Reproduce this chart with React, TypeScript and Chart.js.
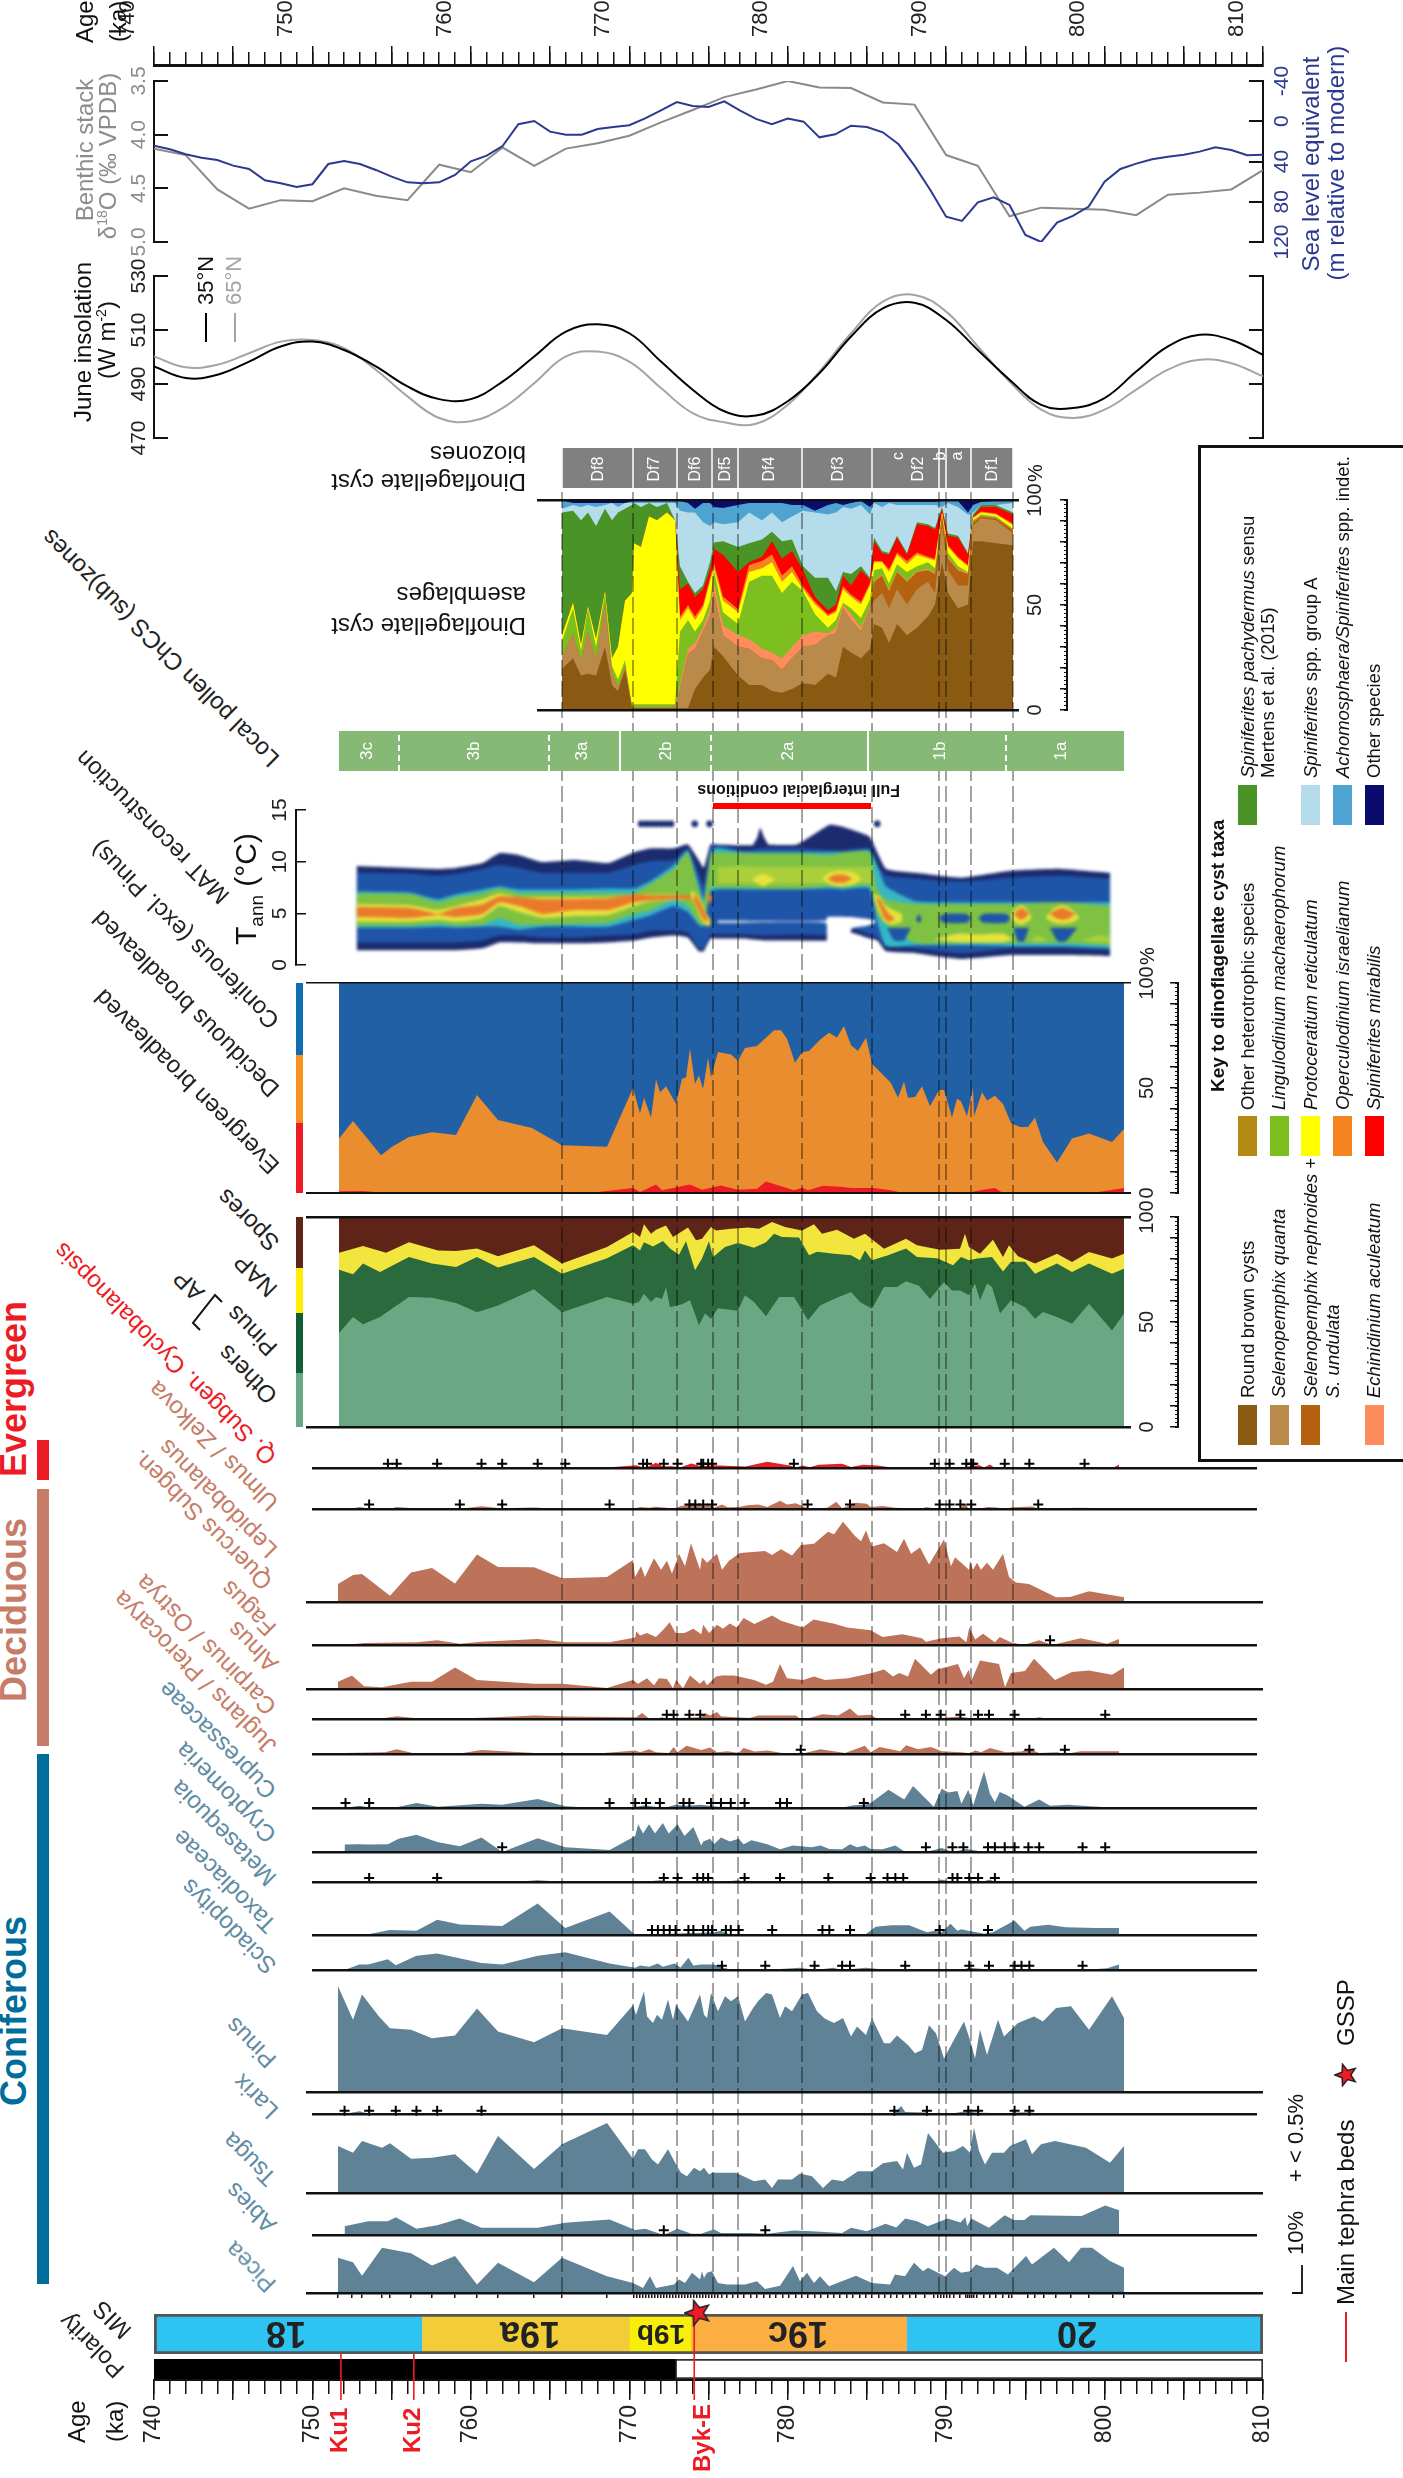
import React, { useEffect, useRef } from 'react';
import { Chart, registerables } from 'chart.js';
Chart.register(...registerables);
Chart.defaults.font.family = '"Liberation Sans", Arial, sans-serif';

/* ---------- age-scaled records ---------- */
const ages2 = [740,742,744,746,748,750,752,754,756,758,760,762,764,766,768,770,772,774,776,778,780,782,784,786,788,790,792,794,796,798,800,802,804,806,808,810];
const ages1 = [740,741,742,743,744,745,746,747,748,749,750,751,752,753,754,755,756,757,758,759,760,761,762,763,764,765,766,767,768,769,770,771,772,773,774,775,776,777,778,779,780,781,782,783,784,785,786,787,788,789,790,791,792,793,794,795,796,797,798,799,800,801,802,803,804,805,806,807,808,809,810];
const benthic = [4.13,4.19,4.51,4.69,4.61,4.62,4.50,4.57,4.61,4.28,4.35,4.12,4.29,4.13,4.08,4.01,3.885,3.77,3.65,3.58,3.50,3.56,3.565,3.70,3.72,4.19,4.29,4.76,4.68,4.69,4.70,4.75,4.56,4.54,4.51,4.33];
const seaLevel = [24.2,27.9,32.8,36.2,38.5,44.1,47.4,58.7,61.7,65.3,62.6,42.5,39.5,42.5,48.4,55,60.7,61.7,60.7,53.4,39.8,34.2,24.6,3,-0.3,10.3,13.3,13.3,7.7,5.7,4,-2.9,-10.9,-19.1,-15.2,-14.2,-19.8,-10.5,-2.3,3,-2.6,0.4,16,13,4.4,5.7,11,22.9,44.1,68.3,94.8,99.1,80.5,75.6,83.2,113,120,100.7,94.1,84.8,60,47.4,42.1,37.8,35.2,33.2,30.2,25.9,28.5,33.8,33.2];
const june35 = [496.5,492.2,493.4,498.3,503.9,505.7,502.6,496.5,489.1,484.4,484.4,490.9,500.2,509.4,512.1,508.8,498.3,487.9,479.9,478.3,483.6,494,507.6,518,520.1,513.7,502.6,491.6,482.3,481.1,484.8,494.6,503.9,508.2,506.3,500.8];
const june65 = [500.2,496.2,497.1,501.4,505.7,506.3,503.3,495.3,485.4,477.4,476.2,481.1,490.3,500.2,502,498.3,488.5,479.2,475.8,475.3,482.3,494.6,508.8,520.5,523,516.8,503.9,490.9,480.5,477.4,480.5,487.9,495.3,499,497.7,492.8];

/* ---------- dinoflagellate cysts: cumulative upper edge (%) at each depth ---------- */
const dinoDepth = [562,573,581,588,596,605,612,618,625,632,634,641,649,657,667,675,680,688,695,703,710,714,723,738,749,762,772,782,792,803,815,828,836,843,851,861,870,874,882,889,897,907,917,928,935,942,948,958,968,973,981,996,1013];
const dinoRoundBrown = [19.5,24.6,16.4,17.3,16.4,30.1,11.9,9.1,19.2,.9,.9,.9,.9,.9,.9,.9,.9,.9,10,15.5,19.2,30.1,25.6,16.4,11.9,11.9,9.1,8.2,10,12.8,11.9,17.3,15.5,30.1,27.4,24.6,29.2,41,39.2,31.9,41,35.6,39.2,44.7,50.2,70.3,55.7,48.4,50.2,80.3,80.3,79.4,78.5];
const dinoQuanta = [25.5,36.5,22.8,37.4,23.7,50.2,17.3,11,21,1.3,1.3,1.3,1.3,1.3,1.3,1.8,10,26.5,29.2,37.4,44.7,55.7,35.6,30.1,29.2,24.6,23.7,19.2,24.6,30.1,31,35.6,36.5,48.4,42.9,37.4,48.4,52,55.7,48.4,57.5,50.2,57.5,61.1,55.7,88.5,66.6,59.3,59.3,87.6,91.3,90.3,84];
const dinoNephroides = [25.5,36.5,22.8,37.4,23.7,50.2,17.3,11,21,1.3,1.3,1.3,1.3,1.3,1.3,1.8,10,26.5,29.2,37.4,44.7,55.7,35.6,30.1,29.2,24.6,23.7,19.2,24.6,30.1,31,35.6,36.5,48.4,42.9,37.4,48.4,61.1,63.9,56.6,65.7,61.1,65.7,66.6,64.8,92.2,72.1,66.6,64.8,89.4,92.2,91.3,85.8];
const dinoEchinidinium = [25.5,36.5,22.8,37.4,23.7,50.2,17.3,11,21,1.3,1.3,1.3,1.3,1.3,1.3,1.8,11.9,29.2,31.9,39.2,48.4,61.1,40.2,35.6,33.8,29.2,27.4,24.6,30.1,35.6,37.4,36.5,39.2,50.2,45.6,39.2,49.3,61.6,64.4,57.1,66.2,61.6,66.2,67.1,65.3,92.4,72.6,67.1,65.3,89.6,92.4,91.5,86];
const dinoLingulodinium = [32.9,48.4,28.3,48.4,30.1,55.7,21,14.6,23.7,1.8,2.7,2.7,2.7,2.7,2.7,2.7,37.4,42.9,37.4,42.9,52,66.6,46.5,41,61.1,63.9,63.9,55.7,61.1,56.6,45.6,39.2,42.9,51.1,48.4,43.8,52.9,66.6,67.5,60.2,69.4,65.7,68.4,70.3,67.5,93.1,74.8,68.4,65.7,90.3,93.1,92.2,86.3];
const dinoProtoceratium = [35.6,51.1,31,49.3,33.8,56.6,24.6,30.1,52,55.7,79.4,77.6,92.2,90.3,94,90.3,42.9,48.4,42.9,48.4,61.1,67.5,52,46.5,65.7,67.5,70.3,61.1,65.7,57.5,50.2,44.7,46.5,57.5,53.8,50.2,59.3,70.3,70.3,65.7,73.9,69.4,73.9,72.1,71.2,94,77.6,72.1,68.4,91.3,94,93.1,88.1];
const dinoOperculodinium = [35.6,51.1,31,49.3,33.8,56.6,24.6,30.1,52,55.7,79.4,77.6,92.2,90.3,94,90.3,44.5,50,44.5,50,63,70,54,48,69,71,74,64,68.5,59,51.5,45.5,47.5,59,55,51.5,60.5,71,71,67,75,71,75,73,72,94.2,78.5,73,69,91.8,94.5,93.6,88.7];
const dinoMirabilis = [35.6,51.1,31,49.3,33.8,56.6,24.6,30.1,52,55.7,79.4,77.6,92.2,90.3,94,90.3,57.5,60.2,53.8,57.5,66.6,76.7,73.9,65.7,70.3,73,80.3,72.1,75.7,66.6,53.8,47.5,50.2,63.9,59.3,66.6,62,80.3,74.8,73.9,82.1,73.9,88.5,87.6,85.8,95.8,83,82.1,73.9,92.2,96.7,96.7,93.1];
const dinoPachydermus = [94,94.9,90.3,94,87.6,95.8,90.3,94,95.8,97.6,98.6,96.7,98.6,96.7,98.6,90.3,68.4,61.1,55.7,59.3,70.3,79.8,80.3,77.6,79.4,81.2,84.9,80.3,81.2,68.4,63,63,56.6,65.7,64.8,68.4,63,82.1,75.7,74.8,83,74.8,89.4,88.5,86.7,96.7,84,83,74.8,93.1,97.6,97.6,94];
const dinoGroupA = [95.8,97.6,96.7,97.6,96.7,97.6,98.6,96.7,98.6,98.6,98.6,98.6,98.6,98.6,98.6,98.6,94.9,94,94,89.4,87.6,89.4,88.5,89.4,94,90.3,94,89.4,92.2,94.9,94,93.1,94,96.7,95.8,97.6,93.1,98.6,96.7,98.6,97.6,97.6,97.6,97.6,97.6,96.7,98.6,96.7,93,94,97.6,97.6,98.6];
const dinoAchomosphaera = [99.8,98.6,98.6,98.6,98.6,98.6,98.6,98.6,98.6,99.5,99.5,99.5,99.5,99.5,99.5,99.5,99.5,98.6,95.8,98.6,98.6,96.7,96.2,97.6,98.6,98.6,98.6,98.6,97.6,97.6,94.9,97.6,98.6,97.6,98.6,99.5,96.7,99.1,99.1,99.1,99.1,99.1,99.1,99.1,99.1,99.5,99.5,99.5,94,97.6,99.1,99.5,99.8];
const dinoOther = [100,100,100,100,100,100,100,100,100,100,100,100,100,100,100,100,100,100,100,100,100,100,100,100,100,100,100,100,100,100,100,100,100,100,100,100,100,100,100,100,100,100,100,100,100,100,100,100,100,100,100,100,100];

/* ---------- vegetation stacks: [depth, cumulative %] ---------- */
const vegEvergreen = [[339,.8],[363,1],[386,0],[461,.5],[562,.2],[598,.5],[633,2.4],[640,.5],[656,4],[662,1.3],[690,4],[702,1.6],[721,3.6],[738,1.6],[757,2],[766,5.5],[794,1.3],[802,2.5],[808,1.3],[823,3.5],[843,2.9],[851,2.4],[874,2.4],[891,1.3],[903,0],[966,0],[983,1.6],[995,2.4],[1003,0],[1092,0],[1124,2.4]];
const vegDeciduous = [[339,25.9],[353,34.3],[381,18],[392,22],[409,26.7],[432,28.9],[456,27.6],[477,46.7],[498,34.8],[532,31],[562,22.7],[607,22],[633,50],[640,37.8],[644,45.4],[651,35.9],[656,54],[660,48],[666,50.8],[676,42.5],[682,54.4],[686,55],[690,68.7],[695,52],[699,56],[703,49.7],[708,64.4],[711,55.2],[718,67.1],[731,66],[738,63],[745,69],[757,70],[774,77.5],[781,77.5],[787,73.5],[795,62],[802,67],[809,67.6],[820,73],[829,76.3],[837,74],[844,79.5],[851,70.3],[858,67.6],[866,74],[872,61.6],[891,52.4],[898,45.4],[904,53],[908,45.4],[915,45.7],[922,50.8],[930,41.3],[939,49],[944,49],[952,36],[957,44.9],[961,43.7],[967,36.6],[973,50],[974,36.6],[982,48],[987,44],[995,46.3],[1003,42.4],[1011,33.3],[1020,31.4],[1028,31.4],[1035,36],[1043,24.3],[1057,14.5],[1072,25.9],[1089,28.3],[1112,24.3],[1124,30.5]];
const vegConiferous = [[339,100],[1124,100]];
const sumOthers = [[339,44.8],[353,52.4],[363,48.9],[380,52.4],[409,61.9],[432,61.6],[456,59],[477,54.6],[498,57.8],[534,65.6],[562,54.6],[607,61.9],[633,58.7],[639,59.5],[644,63.5],[651,59.5],[656,61.9],[662,61],[666,66.5],[670,57],[682,58.4],[690,60.3],[699,48.4],[705,54],[711,51.6],[718,56.5],[738,55.4],[745,62.7],[754,59.5],[766,52.7],[779,61.9],[794,61.9],[808,50.8],[820,57.9],[834,61],[851,64.3],[860,59.5],[872,56.3],[884,66.7],[897,66.7],[906,69.4],[919,67.3],[930,60.9],[944,68.9],[952,65],[960,65],[969,62.7],[975,68.3],[980,60.3],[987,68.3],[992,66.7],[1000,54],[1011,60.3],[1025,57],[1035,51.6],[1043,54.8],[1057,52.4],[1072,49.2],[1089,58.7],[1112,46],[1124,54]];
const sumPinus = [[339,74.9],[353,72.7],[363,77.8],[380,73.8],[409,81],[432,77.8],[456,76.2],[477,81],[498,75.9],[534,81],[562,73],[607,80.3],[633,86.5],[640,84],[644,88],[653,86],[663,88.6],[670,85],[679,82],[686,88.4],[695,74.6],[702,80.2],[709,88.4],[713,81],[725,85.7],[738,87.6],[754,85.4],[766,88],[774,92],[782,90.5],[799,90.2],[809,81.8],[817,83.4],[834,82.5],[851,81.8],[860,79.4],[865,84],[872,79.4],[888,81.8],[906,85],[917,81],[937,80.3],[953,77],[961,81],[969,79.4],[977,80.2],[992,81],[1003,74],[1011,78.7],[1025,78.7],[1035,73],[1057,77.8],[1072,73.8],[1089,77.8],[1112,73],[1124,75.4]];
const sumNap = [[339,83],[363,86.2],[386,83],[409,88],[438,84.1],[456,83.8],[477,85],[498,81.3],[534,86.5],[562,77.8],[607,85.7],[633,92.9],[640,90.5],[644,96.5],[651,92],[656,93.9],[666,96],[673,90.5],[688,95],[696,88.9],[702,89.7],[711,95.2],[716,93.6],[731,94.4],[748,95],[759,94.4],[772,97.6],[785,95.2],[802,93.6],[814,96.5],[822,92],[837,93.9],[854,89.7],[865,92],[884,84.9],[906,89.7],[917,86.5],[940,84.4],[960,84.9],[965,92],[969,85.7],[980,82.5],[993,89.2],[1003,81],[1009,86.5],[1018,81.3],[1035,77.8],[1057,82.5],[1072,78.6],[1089,83.3],[1112,80.2],[1124,82.5]];
const sumSpores = [[339,100],[1124,100]];

/* ---------- pollen taxa: [depth, %] ---------- */
const cyclobalanopsis = [[338,.4],[366,.4],[370,0],[598,0],[634,1.5],[643,0],[654,2.8],[661,1],[670,1],[679,.4],[690,2.5],[700,1],[713,1.5],[745,.8],[767,3.4],[790,1.3],[796,.3],[803,1.3],[810,.4],[819,1.8],[843,2.3],[852,.6],[864,1.8],[879,1.3],[893,.3],[933,0],[964,.4],[982,1.5],[987,.3],[993,1.9],[998,0],[1005,.4],[1012,0],[1118,0],[1124,1.9]];
const ulmus = [[343,0],[353,1],[362,.3],[384,0],[391,1],[408,.4],[420,0],[455,.1],[477,1.4],[496,.4],[531,.8],[554,0],[598,0],[607,.3],[632,.3],[638,1],[647,.6],[654,1.1],[667,.5],[672,0],[679,1.5],[690,2.3],[700,1.9],[709,1.9],[713,.6],[721,2.3],[727,.9],[738,1],[747,1.9],[758,2.2],[767,1],[780,4.2],[787,2.2],[796,2.9],[808,.4],[812,.3],[828,.6],[837,3.6],[843,.4],[857,3.2],[868,2.6],[872,1],[884,1.5],[897,.6],[911,.4],[915,0],[924,0],[928,1],[937,.3],[949,0],[955,.6],[962,.3],[968,2.6],[971,.5],[978,.4],[982,.1],[991,1],[1000,.8],[1007,0],[1016,.9],[1036,1.3],[1043,0],[1081,.6],[1117,.4],[1124,0]];
const quercus = [[338,6.4],[353,9.6],[362,10],[390,2.2],[411,10.5],[432,12.1],[455,6.6],[477,17],[498,12.5],[534,12.4],[562,8.5],[607,8.9],[633,15],[635,8.9],[641,12.8],[645,8.9],[654,15.6],[661,11.5],[667,14.7],[672,10.2],[679,17.2],[685,12.8],[691,21],[700,11.5],[702,16],[707,14],[717,17.2],[722,11.5],[729,14.7],[740,17.5],[765,18.2],[772,16.8],[781,18.8],[792,16.6],[801,20.4],[814,20.8],[828,25.1],[834,24.2],[843,28.7],[855,23.6],[861,21.7],[866,25.5],[872,19.8],[884,21],[897,17.9],[904,22.6],[911,17.2],[920,19.5],[929,13.4],[944,22.3],[951,12.8],[955,16],[969,11.5],[970,14.7],[973,11.5],[977,14],[981,11.5],[987,14],[993,11.5],[1003,17.2],[1009,8.9],[1016,7],[1029,6.4],[1056,1.7],[1070,1.8],[1089,3.8],[1124,1.7]];
const fagus = [[338,0],[358,1],[411,1.3],[432,2.3],[455,.6],[477,1.5],[534,2.9],[562,1.3],[607,1.3],[633,3.6],[634,6.6],[638,4.5],[645,5.7],[654,3.8],[661,7],[668,10.8],[674,5.7],[683,5.7],[692,7.7],[700,5.1],[702,9.6],[708,5.7],[716,9.6],[722,7.7],[729,10.2],[736,8.3],[743,12.8],[754,10],[772,14],[781,11.5],[803,8.3],[814,12.1],[834,10.2],[848,8.3],[872,7],[884,3.8],[904,5.1],[924,3.2],[928,1.5],[944,3.2],[962,4.1],[969,1.3],[972,8.3],[978,2.6],[986,5.4],[998,1.3],[1003,3.8],[1014,1.3],[1027,0],[1043,2.3],[1056,0],[1085,3.2],[1112,.6],[1124,2.8]];
const alnus = [[338,2.6],[352,4.8],[364,1],[382,.6],[411,2.6],[432,2.6],[455,7.7],[477,3.2],[534,1.9],[562,1.9],[607,.4],[633,3.2],[638,1.9],[647,3.8],[654,1.3],[659,3.8],[667,3.6],[673,.3],[676,3.2],[683,.3],[690,4.8],[700,1.9],[704,3.2],[707,1.3],[716,4.5],[722,4.8],[734,4.8],[754,3.2],[766,1.5],[773,2.6],[780,8.9],[787,3.8],[803,3.2],[814,4.5],[825,3.2],[848,3.8],[872,5.7],[884,7],[893,4.5],[899,5.7],[908,4.5],[915,10.8],[931,5.1],[937,7],[958,8.9],[964,3.8],[969,7],[971,2.6],[980,10.2],[999,8.9],[1005,.6],[1011,5.7],[1025,6.4],[1034,10.8],[1055,3.2],[1072,6.1],[1089,6.6],[1112,5.1],[1124,7.7]];
const carpinus = [[338,.6],[362,.6],[371,0],[391,1.5],[411,.4],[455,.3],[491,1],[531,1.9],[562,1.3],[634,1],[640,3.2],[647,.3],[654,0],[660,1],[665,.3],[700,1],[704,3.2],[709,1.9],[716,3.8],[720,1.5],[734,1],[749,.6],[758,1.9],[767,1.9],[796,1.9],[801,0],[808,.3],[823,2.6],[839,1.9],[851,5.7],[859,1.9],[872,2.3],[879,0],[906,.4],[928,.3],[944,.5],[962,1.3],[971,.6],[978,0],[1034,0],[1043,1],[1052,0],[1070,.4],[1076,0],[1124,0]];
const juglans = [[338,.6],[379,1],[391,2.6],[408,.4],[455,.3],[477,2.2],[531,.6],[598,.4],[633,1.9],[638,1],[647,2.6],[654,1],[667,.6],[672,3.8],[676,1],[685,4.5],[700,2.2],[709,3.6],[716,1],[727,1.5],[738,.6],[743,3.2],[754,1.3],[767,1.9],[785,.3],[801,0],[821,2.6],[846,.6],[866,4.5],[872,1],[881,3.8],[902,1.5],[908,4.8],[920,2.6],[933,3.8],[944,1.5],[964,1],[973,.4],[978,1.9],[984,1],[993,3.2],[1009,1],[1025,1.3],[1032,2.8],[1043,.6],[1061,1],[1070,0],[1085,1.5],[1124,1.5]];
const cupressaceae = [[338,0],[353,1],[362,.3],[384,.4],[391,.3],[411,2.3],[433,.6],[477,1.9],[498,1.5],[534,4.1],[562,.8],[594,0],[633,.4],[643,1.3],[656,.3],[665,.3],[674,1.5],[685,1],[700,1.5],[716,.6],[745,0],[758,.4],[774,0],[799,0],[810,.3],[841,0],[855,1.3],[866,1.5],[872,2.3],[890,8.3],[906,3.8],[915,10],[936,.6],[944,8.7],[951,7],[960,7.7],[964,1.9],[971,8.3],[976,1.3],[987,16.6],[993,6.4],[998,2.6],[1003,7.3],[1011,5.7],[1028,.6],[1043,3.8],[1054,1],[1072,1.5],[1110,.3],[1113,0]];
const cryptomeria = [[338,3.6],[353,3.8],[362,3.6],[382,3.8],[393,6.4],[411,8.3],[432,4.8],[455,2.8],[477,7],[498,0],[534,6.6],[562,2.3],[607,1],[633,7.7],[636,13.4],[641,8.9],[647,13.4],[653,8.9],[661,14],[667,8.9],[676,13.4],[683,7.7],[692,12.1],[700,3.2],[702,5.1],[709,6.4],[713,3.8],[720,7],[729,5.1],[738,6.4],[743,3.8],[751,5.7],[767,3.8],[780,1.3],[793,3.2],[812,2.3],[821,3.2],[830,1.5],[843,1.3],[851,3.8],[858,2.3],[866,3.2],[872,1.5],[884,1.3],[897,3.2],[907,0],[920,.4],[928,0],[944,1.9],[955,0],[969,1.5],[980,.6],[987,0],[1124,0]];
const metasequoia = [[338,0],[509,0],[534,1],[562,0],[634,.3],[638,0],[659,1],[667,0],[727,.4],[738,1],[743,0],[937,0],[944,1.5],[955,0],[987,.4],[993,1.5],[998,0],[1124,0]];
const taxodiaceae = [[338,0],[362,.4],[384,2.3],[411,1.9],[432,7],[455,4.8],[498,4.1],[534,14.4],[562,3.2],[607,10.8],[633,0],[713,1.3],[720,1.9],[727,.6],[738,0],[866,0],[877,3.8],[893,4.5],[911,4.5],[929,1.3],[937,1.9],[944,1.3],[953,5.1],[960,1.9],[964,2.6],[971,1.9],[987,.6],[996,1.3],[1018,6.6],[1028,1.9],[1034,3.8],[1052,4.7],[1070,3.6],[1101,3.2],[1124,3.2]];
const sciadopitys = [[338,0],[353,3],[362,3],[382,5.8],[390,2.6],[411,7.8],[432,9],[477,3.8],[498,3],[534,7.8],[562,9.6],[607,3.6],[633,1.2],[638,2.4],[647,1.8],[656,3.6],[661,1.8],[673,3.6],[679,1.4],[687,6.6],[692,2.4],[700,3],[713,3],[720,1.8],[731,0],[749,.6],[765,0],[800,1.2],[816,0],[834,1.2],[843,0],[867,1.2],[890,0],[964,0],[972,1.2],[986,.6],[994,0],[1012,.6],[1039,0],[1070,.6],[1088,0],[1112,1],[1124,3]];
const pinus = [[338,37.8],[353,25.8],[362,34.8],[379,27],[390,22.8],[411,22.2],[432,19.2],[455,20.2],[477,29.8],[498,21.6],[534,17.8],[562,22.8],[607,20.4],[633,31],[636,27.6],[644,36],[647,27],[653,24.6],[657,27.6],[662,25.8],[668,33],[673,25.8],[676,31.2],[688,25.2],[700,34.8],[704,27.6],[707,26.4],[711,35.4],[718,28.8],[725,34.2],[731,32.4],[738,34.2],[745,25.2],[752,29.4],[758,32.4],[766,35.4],[772,34.8],[780,26.4],[785,30.6],[792,28.8],[802,34.8],[808,35.4],[817,28.8],[825,26.2],[834,24.6],[843,26.4],[851,19.8],[857,23.4],[866,20.4],[872,26.4],[884,17.4],[890,17.4],[897,20.2],[908,16.8],[915,13.8],[922,15],[929,23.8],[936,21],[944,12],[953,18],[964,25.2],[971,17.4],[975,12],[980,22.2],[987,13.2],[998,25.8],[1004,19.8],[1018,24.6],[1034,27],[1043,25.2],[1056,30],[1071,30.6],[1089,22.2],[1112,34.2],[1124,26.4]];
const larix = [[338,0],[353,1.8],[362,.4],[388,.4],[397,0],[477,.4],[500,.6],[518,0],[896,0],[898,2.2],[903,5.4],[907,1.4],[928,1],[937,0],[944,.6],[952,0],[968,1.8],[979,1],[994,.6],[1003,0],[1021,1],[1034,1.2],[1041,.4],[1124,.6]];
const tsuga = [[338,16.8],[353,14.4],[362,18.6],[382,16.2],[390,17.8],[411,12.2],[432,12.6],[455,13.8],[477,7],[498,20.4],[534,8.6],[562,17.4],[607,25],[633,12.2],[638,15.6],[645,15.6],[652,12],[658,10.2],[668,15.6],[676,10.2],[681,7.2],[687,6],[694,9],[700,7.8],[704,9],[709,6.6],[712,7.2],[720,7.2],[736,7.2],[754,4.2],[765,4.8],[772,1.8],[778,4.8],[792,4.8],[800,7],[812,6],[823,1.8],[832,4.8],[843,4.2],[858,7.8],[872,7.8],[883,10.6],[897,11.4],[903,8.4],[907,14.4],[914,9],[921,10.2],[928,21.4],[943,14.4],[954,15],[963,16.8],[970,14.4],[974,23.4],[979,15],[985,10.2],[992,14.4],[998,14.4],[1004,14.4],[1010,16.8],[1026,19.2],[1032,13.8],[1041,17.4],[1055,18.6],[1086,16.2],[1110,10.8],[1124,16.8]];
const abies = [[338,4.2],[362,6.6],[382,6.6],[390,8.4],[411,3],[432,4.6],[455,7.8],[477,3.4],[534,3.4],[562,5.8],[607,7.4],[633,2.4],[643,3],[662,0],[676,3],[690,.6],[700,.6],[707,1.8],[713,2.6],[720,1],[749,1],[767,.6],[794,2.2],[812,1.8],[843,1],[852,3.4],[868,1.8],[887,5.4],[898,3.6],[907,7.8],[919,6.6],[930,4.2],[950,7.8],[963,6],[968,8.4],[970,4.2],[974,7.8],[992,3.4],[1008,9.4],[1017,7.2],[1028,7.2],[1034,9.4],[1086,9],[1110,14],[1124,11.8]];
const picea = [[338,12.6],[353,11],[362,6.2],[382,16.2],[411,14.2],[432,9.8],[455,13.2],[477,3],[498,10.8],[534,3.8],[562,12.6],[607,6],[633,3.6],[643,1.8],[650,6],[656,1.8],[674,3],[679,4.8],[685,3.6],[692,7.2],[700,4.8],[702,7.8],[704,5.4],[707,7.2],[712,7.8],[718,3.6],[727,3],[745,3],[757,4.2],[765,1.4],[780,2.6],[793,9.6],[800,4.2],[807,7.2],[814,3.6],[820,6],[829,2.4],[856,6.2],[872,3.6],[890,3],[895,6.6],[905,6],[914,10.8],[923,7.8],[928,9],[945,6],[954,9],[961,7.2],[970,7.8],[976,10.2],[985,9],[997,9],[1008,6.6],[1026,13.2],[1032,10.2],[1054,16.2],[1069,11],[1081,16.2],[1092,16.2],[1110,11.4],[1124,9]];

/* depths of taxa present below 0.5 % */
const plusCyclobalanopsis = [382,391,432,477,498,534,562,641,645,662,676,700,702,707,711,794,937,952,969,974,976,1008,1033,1089];
const plusUlmus = [363,455,498,607,688,694,702,711,808,851,942,952,963,974,1042];
const plusFagus = [1054];
const plusCarpinus = [665,672,688,699,907,928,943,963,981,992,1018,1110];
const plusJuglans = [801,1033,1069];
const plusCupressaceae = [339,363,607,633,644,658,682,688,710,720,730,744,780,787,865];
const plusCryptomeria = [498,928,955,966,991,998,1008,1018,1032,1043,1087,1110];
const plusMetasequoia = [363,432,662,676,696,702,707,744,780,829,872,889,897,905,955,960,972,981,998];
const plusTaxodiaceae = [650,656,662,668,674,687,692,702,707,711,725,730,738,772,823,830,851,942,991];
const plusSciadopitys = [721,765,815,843,851,907,972,992,1018,1025,1033,1087];
const plusLarix = [338,363,390,411,432,477,896,929,971,981,1018,1033];
const plusAbies = [662,765];

const sampleDepths = [338,352,362,382,390,411,432,455,477,498,534,562,607,634,637,640,643,646,649,652,655,658,661,664,667,670,673,676,679,682,685,688,691,694,697,700,703,706,709,712,715,718,722,727,733,738,744,751,757,764,770,776,783,789,796,802,808,815,821,828,834,840,847,853,860,866,872,879,885,891,897,903,910,916,925,934,938,941,944,947,950,954,960,966,968,970,972,974,977,984,990,996,1003,1009,1012,1028,1035,1044,1056,1071,1089,1113,1124];

const boundaries = [562,633,677,713,738,802,872,939,946,971,1013];
const dfEdges = [562,633,677,712,738,802,872,939,946,971,1013];
const pollenZoneSolid = [620,868];
const pollenZoneDashed = [399,549,711,1006];

/* ---------- MAT reconstruction: density contours (degC) along depth ---------- */
const matDepth = [353,407,435,453,480,497,517,540,573,607,633,650,673,687,698,703,710,717,743,763,797,830,843,870,878,887,917,963,1013,1063,1113];
const matNavyTop = [9.7,9.5,9.4,9.5,10,11,10.8,10.1,10.3,10,11.1,11.5,11.5,11.9,10.3,9.5,11.9,11.9,11.8,11.9,11.9,13.9,13.7,12.7,11.1,9.4,9,8.5,9.2,9.4,9];
const matNavyBot = [1.1,1.1,1.1,1.1,1.3,1.9,1.9,1.8,1.8,1.9,2.1,2.4,2.6,2.4,1,1,2.3,2.3,2.3,2.1,2.1,2.1,3.1,2.3,2.1,1,.8,.2,.6,.6,.5];
const matBlueTop = [9,8.9,8.7,8.9,9.4,9.8,9.5,9,9,9,9.8,10.2,10.3,11.5,8.9,7.6,11.5,11.8,11.3,11.5,11.5,11.3,11.3,11.5,9.8,8.7,8.4,8.1,8.5,8.7,8.4];
const matBlueBot = [1.9,1.9,1.9,1.9,2.1,2.6,2.6,2.4,2.4,2.6,2.7,3.1,3.1,2.9,1.3,1.3,2.7,2.7,2.7,2.6,2.7,2.7,3.7,2.7,2.4,1.5,1.3,.8,1.3,1.3,1.1];
const matCyanTop = [7.1,7,6.3,6.8,7.3,7.6,7.3,7.3,7.3,7.4,7.4,8.2,9.8,11.3,7.9,6.3,11.1,11.5,11.1,11.1,11.1,11.1,11.1,11.3,9.8,7.6,6.1,6,6,6,6];
const matCyanBot = [3.4,3.4,3.5,3.4,3.5,3.5,3.2,3.5,3.5,3.5,4.2,4.7,5.6,5,3.7,3.5,7.1,7.3,7.3,7.3,7.3,7.4,7.3,7.4,4,1.5,1.6,1.6,1.5,1.5,1.3];
const matGreenTop = [6.9,6.8,6,6.5,6.9,7.4,6.9,6.9,6.9,6.9,6.9,7.9,9.4,11.1,7.3,5.8,10.8,11.1,11,11,11,10.8,11.1,11.1,7.3,6.3,5.8,5.8,5.8,6,5.6];
const matGreenBot = [3.6,3.6,3.8,3.6,3.7,4.4,3.7,3.7,3.8,3.9,4.8,5.2,6.3,5.6,3.9,3.7,7.5,7.5,7.5,7.4,7.4,7.6,7.5,7.7,4.8,3.7,1.8,1.8,1.8,1.8,1.6];
const matCoolDepth = [353,407,435,453,480,497,517,540,573,607,633,650,673,687,698];
const matYellowTop = [5.8,5.7,5.2,5.6,6.3,6.9,6.5,6.5,6.5,6.5,6.8,6.8,6.8,6.6,6.6];
const matYellowBot = [4,4,4.2,4,4.4,5.6,5,4.4,4.6,4.7,5.6,6.1,6.2,6.3,6.4];
const matOrangeTop = [5.5,5.4,4.8,5.4,5.8,6.6,6.5,6.3,6.3,6.4,6.8,6.7,6.7,6.7,6.7];
const matOrangeBot = [4.5,4.4,4.7,4.5,4.8,6,5.6,4.8,5.2,5.2,6,6.2,6.3,6.3,6.4];
const matDotDepth = [640,645,650,655,660,665,670,694,709,878];
const matDotTemp = [14,14,14,14,14,14,14,14,14,14];

/* ---------- zones and scale readings ---------- */
const misNames = ['18','19a','19b','19c','20'];
const misFrom = [740,756.9,770,773.9,787.5];
const misTo = [756.9,770,773.9,787.5,810];
const misColors = ['#2fc3f2','#f2cd37','#f7ee0a','#fbae42','#2fc3f2'];
const misLabelX = [286,530,661,798,1077];
const misLabelSize = [36,36,28,36,36];
const tephraKa = [751.8,756.4];
const bykKa = [774.1];
const gsspKa = [774.3];

const dinoColors = {
  roundBrown: '#8a5a12', quanta: '#b98a4a', nephroides: '#b4620f', other: '#b58a14', echinidinium: '#ff8c5c',
  lingulodinium: '#7dbf1e', protoceratium: '#ffff00', operculodinium: '#f5831f', mirabilis: '#ff0000',
  pachydermus: '#4a9327', groupA: '#b4dcea', achomosphaera: '#4fa3d1', others: '#0b0b6e',
};

const FONT = '"Liberation Sans", Arial, sans-serif';
const CONIFER = '#5f8ba3';
const CONIFER_FILL = '#5f8296';
const DECID = '#c67c66';
const DECID_FILL = '#bd725a';
const RED = '#ed1c24';
const NAVY = '#2b3990';
const GREY = '#8c8c8c';

const baseOpts = {
  responsive: false, maintainAspectRatio: false, animation: false, devicePixelRatio: 1, events: [],
  plugins: { legend: { display: false }, tooltip: { enabled: false } },
};
const xy = (p: number[][]) => p.map(([x, y]) => ({ x, y }));
const zip = (a: number[], b: number[]) => a.map((x, i) => ({ x, y: b[i] }));
const area = (data: any[], color: string) => ({ data, backgroundColor: color, borderWidth: 0, pointRadius: 0, fill: 'origin', tension: 0 });
const bline = (width: number) => ({ display: true, color: '#111', width, z: 2 });

function C({ left, top, width, height, config, blur = 0 }: any) {
  const ref = useRef<HTMLCanvasElement>(null);
  useEffect(() => {
    const c = new Chart(ref.current as any, typeof config === 'function' ? config() : config);
    return () => c.destroy();
  }, []);
  return <canvas ref={ref} width={width} height={height} style={{ position: 'absolute', left, top, width, height, display: 'block', filter: blur ? `blur(${blur}px)` : undefined }} />;
}

function T({ x, y, rot = -90, a = 0, size = 24, color = '#111', bold = false, italic = false, children }: any) {
  return (
    <div style={{ position: 'absolute', left: x, top: y, transformOrigin: '0 0', transform: `rotate(${rot}deg) translate(${-a * 100}%,-50%)`, whiteSpace: 'nowrap', fontFamily: FONT, fontSize: size, lineHeight: 1, color, fontWeight: bold ? 700 : 400, fontStyle: italic ? 'italic' : 'normal' }}>{children}</div>
  );
}
const Box = ({ x, y, w, h, color }: any) => <div style={{ position: 'absolute', left: x, top: y, width: w, height: h, background: color }} />;

/* area panel on a depth axis */
function areaCfg({ xMin, xMax, yMax, datasets, pad = 3, topPad = 2, axisW = 2.5, ticks = false, topBorder = false, topW = 2.5 }: any) {
  return {
    type: 'line',
    data: { datasets },
    options: {
      ...baseOpts,
      layout: { padding: { top: topPad, bottom: pad, left: 0, right: 0 } },
      scales: {
        x: {
          type: 'linear', min: xMin, max: xMax, position: 'bottom',
          afterFit: (s: any) => { s.height = 0; },
          afterBuildTicks: ticks ? (s: any) => { s.ticks = sampleDepths.map((value) => ({ value })); } : undefined,
          ticks: { display: false, autoSkip: false },
          grid: ticks ? { drawOnChartArea: false, drawTicks: true, tickLength: 5, color: '#111', lineWidth: 1.5 } : { display: false, drawTicks: false },
          border: bline(axisW),
        },
        ...(topBorder ? { xTop: { type: 'linear', min: xMin, max: xMax, position: 'top', afterFit: (s: any) => { s.height = 0; }, ticks: { display: false }, grid: { display: false, drawTicks: false }, border: bline(topW) } } : {}),
        y: { type: 'linear', min: 0, max: yMax, display: false },
      },
    },
  };
}

/* stand-alone vertical axis (negative tick length turns the ticks inwards) */
const AX_V = 35;
function yAxisCfg({ min, max, step, tick, margin, labels, pad = 6, size = 20, reverse = false, lw = 1.5 }: any) {
  return {
    type: 'line',
    data: { datasets: [] },
    options: {
      ...baseOpts,
      layout: { padding: { top: AX_V, bottom: AX_V, left: 0, right: 0 } },
      scales: {
        x: { type: 'linear', min: 0, max: 1, display: false },
        y: {
          type: 'linear', position: 'left', min, max, reverse,
          afterFit: (s: any) => { s.width = margin; },
          ticks: labels
            ? { stepSize: step, autoSkip: false, minRotation: 90, maxRotation: 90, crossAlign: 'center', padding: pad, color: '#222', font: { size }, callback: labels }
            : { stepSize: step, display: false, autoSkip: false },
          grid: { drawOnChartArea: false, drawTicks: true, tickLength: tick, color: '#111', lineWidth: lw },
          border: { display: true, color: '#111', width: 2 },
        },
      },
    },
  };
}

/* horizontal age ruler */
function xAxisCfg({ position, step, tick, h, labels, pad = 6, size = 22, border = 3 }: any) {
  return {
    type: 'line',
    data: { datasets: [] },
    options: {
      ...baseOpts,
      layout: { padding: { top: 0, bottom: 0, left: 60, right: 60 } },
      scales: {
        y: { type: 'linear', min: 0, max: 1, display: false },
        x: {
          type: 'linear', position, min: 740, max: 810,
          afterFit: (s: any) => { s.height = h; },
          ticks: labels
            ? { stepSize: step, autoSkip: false, minRotation: 90, maxRotation: 90, padding: pad, color: '#222', font: { size }, callback: labels }
            : { stepSize: step, display: false, autoSkip: false },
          grid: { drawOnChartArea: false, drawTicks: true, tickLength: tick, color: '#111', lineWidth: 1.5 },
          border: { display: true, color: '#111', width: border },
        },
      },
    },
  };
}

/* floating horizontal bars */
function barsCfg({ xMin, xMax, bars }: any) {
  return {
    type: 'bar',
    data: {
      labels: [''],
      datasets: bars.map((b: any) => ({
        data: [[b.from, b.to]], backgroundColor: b.color, borderColor: b.border || 'transparent', borderWidth: b.border ? (b.bw || 2) : 0,
        borderSkipped: false, grouped: false, barPercentage: 1, categoryPercentage: 1,
      })),
    },
    options: {
      ...baseOpts, indexAxis: 'y',
      layout: { padding: 1 },
      scales: { x: { type: 'linear', min: xMin, max: xMax, display: false }, y: { type: 'category', display: false } },
    },
  };
}

/* vertical rule lines */
function ruleCfg({ xMin, xMax, values, color, dash = [], width = 2 }: any) {
  return {
    type: 'line',
    data: { datasets: values.map((v: number) => ({ data: [{ x: v, y: 0 }, { x: v, y: 1 }], borderColor: color, borderDash: dash, borderWidth: width, pointRadius: 0 })) },
    options: { ...baseOpts, scales: { x: { type: 'linear', min: xMin, max: xMax, display: false }, y: { type: 'linear', min: 0, max: 1, display: false } } },
  };
}

function starCanvas(size: number) {
  const c = document.createElement('canvas');
  c.width = size; c.height = size;
  const g = c.getContext('2d') as CanvasRenderingContext2D;
  g.translate(size / 2, size / 2);
  g.beginPath();
  for (let i = 0; i < 10; i++) {
    const r = i % 2 ? size * 0.2 : size * 0.47;
    const t = Math.PI + (i * Math.PI) / 5;
    g[i ? 'lineTo' : 'moveTo'](r * Math.cos(t), r * Math.sin(t));
  }
  g.closePath();
  g.fillStyle = RED; g.fill();
  g.strokeStyle = '#222'; g.lineWidth = 1.5; g.stroke();
  return c;
}
const starCfg = (xMin: number, xMax: number, xs: number[], size: number) => () => ({
  type: 'line',
  data: { datasets: [{ data: xs.map((x) => ({ x, y: 0.5 })), showLine: false, pointStyle: starCanvas(size), pointRadius: size / 2, clip: false }] },
  options: { ...baseOpts, scales: { x: { type: 'linear', min: xMin, max: xMax, display: false }, y: { type: 'linear', min: 0, max: 1, display: false } } },
});

/* density bands for the MAT panel */
const NV = '#1c2b6e', BL = '#1f55a8', CY = '#35b7c4', GN = '#7fc143', LM = '#a9cf3a', YL = '#e6e23c', OR = '#ea7a2b';
const matBands = [
  { x: matDepth, top: matNavyTop, bot: matNavyBot, c: NV },
  { x: [753,757,760,764,768], top: [11.9,12.6,13.6,12.6,11.9], bot: [11.5,11.5,11.5,11.5,11.5], c: NV },
  { x: matDepth, top: matBlueTop, bot: matBlueBot, c: BL },
  { x: matDepth, top: matCyanTop, bot: matCyanBot, c: CY },
  { x: matDepth, top: matGreenTop, bot: matGreenBot, c: GN },
  { x: [717,740,763,797,830,855,872], top: [9.6,9.7,9.6,9.6,9.6,9.6,9.6], bot: [7.9,7.9,7.9,7.9,7.9,7.9,7.9], c: LM },
  { x: [752,757,763,769,775], top: [8.3,8.7,8.9,8.7,8.3], bot: [8.3,7.9,7.6,7.9,8.3], c: YL },
  { x: [822,830,842,855,862], top: [8.4,9,9.2,9,8.4], bot: [8.4,7.8,7.6,7.8,8.4], c: YL },
  { x: [828,835,845,853], top: [8.4,8.8,8.8,8.4], bot: [8.4,8,8,8.4], c: OR },
  { x: matCoolDepth, top: matYellowTop, bot: matYellowBot, c: YL },
  { x: matCoolDepth, top: matOrangeTop, bot: matOrangeBot, c: OR },
  { x: [690,695,700,705,710], top: [7.2,6.9,6.2,5,4.2], bot: [6.6,5.6,4.4,3.6,3.6], c: YL },
  { x: [693,698,703,707], top: [6.9,6.3,5.2,4.4], bot: [6.2,5.2,4.2,3.9], c: OR },
  { x: [706,709,712], top: [6.4,6.9,6.4], bot: [6.4,5.9,6.4], c: OR },
  { x: [917,920,923], top: [4.2,4.8,4.2], bot: [4.2,3.9,4.2], c: BL },
  { x: [940,945,968,973], top: [4.4,4.8,4.8,4.4], bot: [4.4,3.9,3.9,4.4], c: BL },
  { x: [980,985,1008,1013], top: [4.4,4.8,4.8,4.4], bot: [4.4,3.9,3.9,4.4], c: BL },
  { x: [1015,1020,1026,1031], top: [3.4,3.4,3.4,3.4], bot: [3.4,2,2,3.4], c: BL },
  { x: [1052,1060,1068,1080], top: [3.4,3.4,3.4,3.4], bot: [3.4,2,2,3.4], c: BL },
  { x: [888,895,905,912], top: [3.4,3.4,3.4,3.4], bot: [3.4,2.1,2.1,3.4], c: BL },
  { x: [935,960,980,1005,1015], top: [2.2,2.8,2.7,2.8,2.2], bot: [2.2,1.9,1.9,1.9,2.2], c: YL },
  { x: [1032,1040,1050], top: [2.1,2.6,2.1], bot: [2.1,1.9,2.1], c: LM },
  { x: [1085,1100,1113], top: [2.1,2.6,2.5], bot: [2.1,1.9,1.9], c: LM },
  { x: [1012,1018,1023,1028,1034], top: [4.4,5.4,5.7,5.4,4.4], bot: [4.4,3.9,3.7,3.9,4.4], c: YL },
  { x: [1016,1020,1023,1027,1031], top: [4.8,5.2,5.4,5.2,4.8], bot: [4.8,4.4,4.2,4.4,4.8], c: OR },
  { x: [1048,1056,1065,1074,1082], top: [4.4,5.4,5.7,5.3,4.4], bot: [4.4,3.9,3.8,3.9,4.4], c: YL },
  { x: [1052,1058,1065,1072,1078], top: [4.8,5.2,5.4,5.1,4.8], bot: [4.8,4.4,4.2,4.4,4.8], c: OR },
  { x: [874,880,885,892,903], top: [6.8,6.6,5.8,5.3,4.8], bot: [6.4,5,4,3.7,4], c: YL },
  { x: [877,881,885,890,895], top: [6.5,6.2,5.5,4.8,4.4], bot: [6.3,5.4,4.4,4,4.2], c: OR },
  { x: [717,826,828,850,852,868,876], top: [4.1,4.1,4.5,4.5,4.5,4.3,4.1], bot: [3.9,3.9,1.8,1.8,3.3,3.6,3.9], c: '#ffffff' },
];
function matDatasets() {
  const out: any[] = [{ data: zip(matDotDepth, matDotTemp), showLine: false, pointRadius: 3.4, pointBackgroundColor: NV, pointBorderWidth: 0 }];
  [...matBands].reverse().forEach((b) => {
    const i = out.length;
    out.push({ data: zip(b.x, b.top), fill: i + 1, backgroundColor: b.c, borderWidth: 0, pointRadius: 0, tension: 0.15 });
    out.push({ data: zip(b.x, b.bot), fill: false, borderWidth: 0, pointRadius: 0, tension: 0.15 });
  });
  return out;
}

const taxa: any[] = [
  { name: 'cyclo', base: 1472, h: 32, fill: RED, series: cyclobalanopsis, plus: plusCyclobalanopsis },
  { name: 'ulmus', base: 1513, h: 38, fill: DECID_FILL, series: ulmus, plus: plusUlmus },
  { name: 'quercus', base: 1602, h: 86, fill: DECID_FILL, series: quercus },
  { name: 'fagus', base: 1649, h: 44, fill: DECID_FILL, series: fagus, plus: plusFagus },
  { name: 'alnus', base: 1689, h: 38, fill: DECID_FILL, series: alnus },
  { name: 'carpinus', base: 1723, h: 32, fill: DECID_FILL, series: carpinus, plus: plusCarpinus },
  { name: 'juglans', base: 1758, h: 32, fill: DECID_FILL, series: juglans, plus: plusJuglans },
  { name: 'cupressaceae', base: 1812, h: 52, fill: CONIFER_FILL, series: cupressaceae, plus: plusCupressaceae },
  { name: 'cryptomeria', base: 1856, h: 42, fill: CONIFER_FILL, series: cryptomeria, plus: plusCryptomeria },
  { name: 'metasequoia', base: 1886, h: 28, fill: CONIFER_FILL, series: metasequoia, plus: plusMetasequoia },
  { name: 'taxodiaceae', base: 1939, h: 50, fill: CONIFER_FILL, series: taxodiaceae, plus: plusTaxodiaceae },
  { name: 'sciadopitys', base: 1974, h: 32, fill: CONIFER_FILL, series: sciadopitys, plus: plusSciadopitys },
  { name: 'pinus', base: 2092, h: 115, fill: CONIFER_FILL, series: pinus },
  { name: 'larix', base: 2117.5, h: 23, fill: CONIFER_FILL, series: larix, plus: plusLarix },
  { name: 'tsuga', base: 2193, h: 72, fill: CONIFER_FILL, series: tsuga },
  { name: 'abies', base: 2239, h: 44, fill: CONIFER_FILL, series: abies, plus: plusAbies },
  { name: 'picea', base: 2293, h: 52, fill: CONIFER_FILL, series: picea, ticks: true },
];

const taxonLabels: any[] = [
  ['Q. Subgen. Cyclobalanopsis', 272, 1461, RED],
  ['Ulmus / Zelkova', 274, 1507, DECID],
  ['Lepidobalanus', 273, 1554, DECID],
  ['Quercus Subgen.', 268, 1586, DECID],
  ['Fagus', 272, 1632, DECID],
  ['Alnus', 274, 1668, DECID],
  ['Carpinus / Ostrya', 272, 1711, DECID],
  ['Juglans / Pterocarya', 272, 1750, DECID],
  ['Cupressaceae', 272, 1795, CONIFER],
  ['Cryptomeria', 272, 1839, CONIFER],
  ['Metasequoia', 272, 1882, CONIFER],
  ['Taxodiaceae', 272, 1929, CONIFER],
  ['Sciadopitys', 272, 1970, CONIFER],
  ['Pinus', 272, 2064, CONIFER],
  ['Larix', 274, 2115, CONIFER],
  ['Tsuga', 272, 2182, CONIFER],
  ['Abies', 272, 2229, CONIFER],
  ['Picea', 272, 2288, CONIFER],
  ['Local pollen ChCS (sub)zones', 275, 763, '#222'],
  ['MAT reconstruction', 225, 900, '#222'],
  ['Coniferous (excl. Pinus)', 275, 1025, '#222'],
  ['Deciduous broadleaved', 275, 1093, '#222'],
  ['Evergreen broadleaved', 275, 1170, '#222'],
  ['Spores', 275, 1247, '#222'],
  ['NAP', 273, 1293, '#222'],
  ['AP', 200, 1297, '#222'],
  ['Pinus', 273, 1352, '#222'],
  ['Others', 273, 1400, '#222'],
  ['MIS', 127, 2335, '#222'],
  ['Polarity', 120, 2374, '#222'],
];

const pollenZones: any[] = [['3c', 366], ['3b', 473], ['3a', 581], ['2b', 665], ['2a', 787], ['1b', 939], ['1a', 1060]];
const dfLabels: any[] = [['Df8', 598, 469], ['Df7', 654, 469], ['Df6', 695, 469], ['Df5', 725, 469], ['Df4', 769, 469], ['Df3', 838, 469], ['Df2', 918, 469], ['c', 898, 456], ['b', 940, 456], ['a', 957, 456], ['Df1', 992, 469]];

export default function App() {
  const dinoStack = [
    [dinoRoundBrown, dinoColors.roundBrown], [dinoQuanta, dinoColors.quanta], [dinoNephroides, dinoColors.nephroides],
    [dinoEchinidinium, dinoColors.echinidinium], [dinoLingulodinium, dinoColors.lingulodinium], [dinoProtoceratium, dinoColors.protoceratium],
    [dinoOperculodinium, dinoColors.operculodinium], [dinoMirabilis, dinoColors.mirabilis], [dinoPachydermus, dinoColors.pachydermus],
    [dinoGroupA, dinoColors.groupA], [dinoAchomosphaera, dinoColors.achomosphaera], [dinoOther, dinoColors.others],
  ].map(([v, c]: any) => area(zip(dinoDepth, v), c));

  const every50 = (v: any) => (v % 50 === 0 ? String(v) : '');
  const tenLabels = (v: any) => (v % 10 === 0 ? String(v) : '');

  return (
    <div style={{ position: 'absolute', left: 0, top: 0, width: 1403, height: 2478, overflow: 'hidden', background: '#fff' }}>
      {/* top age ruler */}
      <C left={94} top={0} width={1229} height={68} config={xAxisCfg({ position: 'top', step: 5, tick: 19, h: 65, labels: tenLabels, pad: 9, size: 22 })} />
      <C left={94} top={0} width={1229} height={68} config={xAxisCfg({ position: 'top', step: 1, tick: 13, h: 65 })} />

      {/* benthic stack and sea level */}
      <C left={94} top={46} width={1229} height={231} config={{
        type: 'line',
        data: { datasets: [
          { data: zip(ages1, seaLevel), yAxisID: 'y2', borderColor: NAVY, borderWidth: 2, pointRadius: 0, tension: 0 },
          { data: zip(ages2, benthic), yAxisID: 'y', borderColor: '#8a8a8a', borderWidth: 2, pointRadius: 0, tension: 0 },
        ] },
        options: { ...baseOpts, layout: { padding: { top: 35, bottom: 35 } }, scales: {
          x: { type: 'linear', min: 740, max: 810, display: false },
          y: { type: 'linear', position: 'left', min: 3.5, max: 5, reverse: true, afterFit: (s: any) => { s.width = 60; },
            ticks: { stepSize: 0.5, autoSkip: false, minRotation: 90, maxRotation: 90, crossAlign: 'center', padding: 14.5, color: GREY, font: { size: 21 }, callback: (v: any) => Number(v).toFixed(1) },
            grid: { drawOnChartArea: false, tickLength: -14, color: '#111', lineWidth: 2 }, border: { color: '#111', width: 2 } },
          y2: { type: 'linear', position: 'right', min: -40, max: 120, reverse: true, afterFit: (s: any) => { s.width = 60; },
            ticks: { stepSize: 40, autoSkip: false, minRotation: 90, maxRotation: 90, crossAlign: 'center', padding: 16, color: NAVY, font: { size: 21 }, callback: (v: any) => (v === -40 ? '-40' : String(v)) },
            grid: { drawOnChartArea: false, tickLength: -14, color: '#111', lineWidth: 2 }, border: { color: '#111', width: 2 } },
        } },
      }} />

      {/* June insolation */}
      <C left={94} top={241} width={1229} height={232} config={{
        type: 'line',
        data: { datasets: [
          { data: zip(ages2, june35), yAxisID: 'y', borderColor: '#000', borderWidth: 2, pointRadius: 0, tension: 0.4 },
          { data: zip(ages2, june65), yAxisID: 'y', borderColor: '#a3a3a8', borderWidth: 2, pointRadius: 0, tension: 0.4 },
        ] },
        options: { ...baseOpts, layout: { padding: { top: 35, bottom: 35 } }, scales: {
          x: { type: 'linear', min: 740, max: 810, display: false },
          y: { type: 'linear', position: 'left', min: 470, max: 530, afterFit: (s: any) => { s.width = 60; },
            ticks: { stepSize: 20, autoSkip: false, minRotation: 90, maxRotation: 90, crossAlign: 'center', padding: 11.5, color: '#222', font: { size: 21 } },
            grid: { drawOnChartArea: false, tickLength: -14, color: '#111', lineWidth: 2 }, border: { color: '#111', width: 2 } },
          y2: { type: 'linear', position: 'right', min: 470, max: 530, afterFit: (s: any) => { s.width = 60; },
            ticks: { stepSize: 20, display: false },
            grid: { drawOnChartArea: false, tickLength: -14, color: '#111', lineWidth: 2 }, border: { color: '#111', width: 2 } },
        } },
      }} />

      {/* dinocyst assemblages */}
      <C left={537} top={498} width={482} height={214} config={areaCfg({ xMin: 537, xMax: 1019, yMax: 100, datasets: dinoStack, pad: 2, topPad: 2, topBorder: true })} />
      <C left={1007} top={465} width={66} height={280} config={yAxisCfg({ min: 0, max: 100, step: 10, tick: 7, margin: 60, labels: every50, pad: 8.3, size: 20 })} />
      <C left={1007} top={465} width={66} height={280} config={yAxisCfg({ min: 0, max: 100, step: 2, tick: 3, margin: 60, lw: 1 })} />

      {/* MAT reconstruction */}
      <C left={306} top={810} width={957} height={155} blur={1.5} config={{
        type: 'line', data: { datasets: matDatasets() },
        options: { ...baseOpts, scales: { x: { type: 'linear', min: 306, max: 1263, display: false }, y: { type: 'linear', min: 0, max: 15, display: false } } },
      }} />
      <C left={236} top={775} width={76} height={225} config={yAxisCfg({ min: 0, max: 15, step: 5, tick: -10, margin: 60, labels: (v: any) => String(v), pad: 14.5, size: 21 })} />

      {/* biome stack */}
      <C left={306} top={981} width={825} height={214} config={areaCfg({ xMin: 306, xMax: 1131, yMax: 100, pad: 2, topPad: 2, axisW: 2, topBorder: true, topW: 1.5, datasets: [area(xy(vegEvergreen), '#ed1c24'), area(xy(vegDeciduous), '#ea8d2f'), area(xy(vegConiferous), '#2160a4')] })} />
      <C left={1118} top={948} width={66} height={280} config={yAxisCfg({ min: 0, max: 100, step: 10, tick: 8, margin: 60, labels: every50, pad: 5.5, size: 20 })} />
      <C left={1118} top={948} width={66} height={280} config={yAxisCfg({ min: 0, max: 100, step: 2, tick: 3, margin: 60, lw: 1 })} />

      {/* pollen sum stack */}
      <C left={306} top={1215} width={825} height={214} config={areaCfg({ xMin: 306, xMax: 1131, yMax: 100, pad: 2, topPad: 2, axisW: 2.5, topBorder: true, datasets: [area(xy(sumOthers), '#6aa883'), area(xy(sumPinus), '#2a6a3c'), area(xy(sumNap), '#f2e53d'), area(xy(sumSpores), '#5f2418')] })} />
      <C left={1118} top={1182} width={66} height={280} config={yAxisCfg({ min: 0, max: 100, step: 10, tick: 8, margin: 60, labels: every50, pad: 5.5, size: 20 })} />
      <C left={1118} top={1182} width={66} height={280} config={yAxisCfg({ min: 0, max: 100, step: 2, tick: 3, margin: 60, lw: 1 })} />

      {/* taxa */}
      {taxa.map((t) => {
        const plusDs = t.plus ? [{ data: t.plus.map((x: number) => ({ x, y: 2.3 })), showLine: false, pointStyle: 'cross', pointRadius: 5, pointBorderColor: '#000', pointBorderWidth: 2, clip: false }] : [];
        const pad = t.ticks ? 7 : 3;
        return (
          <C key={t.name} left={306} top={Math.round(t.base - t.h)} width={957} height={Math.round(t.h) + pad} config={areaCfg({
            xMin: 306, xMax: 1263, yMax: Math.round(t.h) / 2.8, pad, topPad: 0, axisW: 2.5, ticks: !!t.ticks,
            datasets: [...plusDs, area(xy(t.series), t.fill)],
          })} />
        );
      })}

      {/* dashed boundaries, Df1-8 */}
      <C left={306} top={488} width={957} height={1805} config={ruleCfg({ xMin: 306, xMax: 1263, values: boundaries, color: 'rgba(0,0,0,0.36)', dash: [16, 5], width: 2 })} />

      {/* dinocyst biozones */}
      <C left={561} top={447} width={453} height={42} config={barsCfg({ xMin: 562, xMax: 1013, bars: [{ from: 562, to: 1013, color: '#808080' }] })} />
      <C left={306} top={448} width={957} height={40} config={ruleCfg({ xMin: 306, xMax: 1263, values: dfEdges, color: '#ffffff', width: 1.5 })} />

      {/* local pollen zones */}
      <C left={338} top={730} width={787} height={42} config={barsCfg({ xMin: 339, xMax: 1124, bars: [{ from: 339, to: 1124, color: '#85b975' }] })} />
      <C left={306} top={731} width={957} height={40} config={ruleCfg({ xMin: 306, xMax: 1263, values: pollenZoneSolid, color: '#ffffff', width: 2 })} />
      <C left={306} top={731} width={957} height={40} config={ruleCfg({ xMin: 306, xMax: 1263, values: pollenZoneDashed, color: '#ffffff', width: 2, dash: [6, 4] })} />

      {/* full interglacial bar */}
      <C left={712} top={802} width={160} height={8} config={barsCfg({ xMin: 713, xMax: 870, bars: [{ from: 713, to: 870, color: '#ff0000' }] })} />

      {/* MIS and polarity */}
      <C left={153} top={2313} width={1111} height={42} config={barsCfg({ xMin: 740, xMax: 810, bars: [
        { from: 740, to: 810, color: 'transparent', border: '#555', bw: 2.5 },
        ...misNames.map((_, i) => ({ from: misFrom[i], to: misTo[i], color: misColors[i] })),
      ] })} />
      <C left={153} top={2358} width={1111} height={22} config={barsCfg({ xMin: 740, xMax: 810, bars: [
        { from: 740, to: 772.9, color: '#000' },
        { from: 772.9, to: 810, color: '#fff', border: '#333', bw: 2 },
      ] })} />

      {/* bottom age ruler */}
      <C left={94} top={2376} width={1229} height={84} config={xAxisCfg({ position: 'bottom', step: 5, tick: 20, h: 80, labels: tenLabels, pad: 5, size: 23, border: 2 })} />
      <C left={94} top={2376} width={1229} height={84} config={xAxisCfg({ position: 'bottom', step: 1, tick: 14, h: 80, border: 2 })} />
      <C left={154} top={2354} width={1109} height={46} config={ruleCfg({ xMin: 740, xMax: 810, values: tephraKa, color: RED, width: 1.6 })} />
      <C left={154} top={2320} width={1109} height={80} config={ruleCfg({ xMin: 740, xMax: 810, values: bykKa, color: RED, width: 1.6 })} />

      {/* MIS names sit under the star */}
      {misNames.map((s, i) => <T key={s} x={misLabelX[i]} y={2334} a={0.5} rot={180} size={misLabelSize[i]} bold color="#222">{s}</T>)}
      <C left={154} top={2296} width={1109} height={34} config={starCfg(740, 810, gsspKa, 28)} />

      {/* ---------- text ---------- */}
      <T x={85} y={43} size={24}>Age</T>
      <T x={118} y={42} size={24}>(ka)</T>
      <T x={85} y={150} a={0.5} color={GREY}>Benthic stack</T>
      <T x={107} y={156} a={0.5} color={GREY}>δ<sup style={{ fontSize: 14 }}>18</sup>O (‰ VPDB)</T>
      <T x={1311} y={164} a={0.5} color={NAVY}>Sea level equivalent</T>
      <T x={1336} y={163} a={0.5} color={NAVY}>(m relative to modern)</T>
      <T x={83} y={342} a={0.5}>June insolation</T>
      <T x={106} y={340} a={0.5}>(W m<sup style={{ fontSize: 14 }}>-2</sup>)</T>
      <T x={206} y={305} size={22}>35°N</T>
      <T x={234} y={305} size={22} color="#a3a3a8">65°N</T>
      <Box x={205} y={313} w={1.6} h={29} color="#000" />
      <Box x={234} y={313} w={1.6} h={29} color="#a3a3a8" />

      <T x={526} y={454} rot={180} size={24}>biozones</T>
      <T x={526} y={482} rot={180} size={24}>Dinoflagellate cyst</T>
      <T x={526} y={595} rot={180} size={24}>asemblages</T>
      <T x={526} y={626} rot={180} size={24}>Dinoflagellate cyst</T>
      <T x={1035} y={482} size={20}>%</T>
      <T x={1147} y={965} size={20}>%</T>
      {dfLabels.map(([s, x, y]) => <T key={s} x={x} y={y} a={0.5} size={16} color="#fff">{s}</T>)}
      {pollenZones.map(([s, x]) => <T key={s} x={x} y={751} a={0.5} size={17} color="#fff">{s}</T>)}
      <T x={900} y={790} rot={180} size={16} bold>Full interglacial conditions</T>
      <T x={248} y={945} size={30}>T<sub style={{ fontSize: 19 }}>ann</sub> (°C)</T>

      {taxonLabels.map(([s, x, y, c], i) => <T key={i} x={x} y={y} rot={-135} size={24} color={c}>{s}</T>)}

      {/* AP bracket, biome keys */}
      <svg style={{ position: 'absolute', left: 185, top: 1290 }} width={45} height={45}>
        <path d="M37 12 L30 5 L8 33 L15 40" fill="none" stroke="#111" strokeWidth={2} />
      </svg>
      <Box x={296} y={983} w={7} h={72} color="#0f6db3" />
      <Box x={296} y={1055} w={7} h={68} color="#f7941e" />
      <Box x={296} y={1123} w={7} h={70} color="#ed1c24" />
      <Box x={296} y={1217} w={7} h={51} color="#5f2418" />
      <Box x={296} y={1268} w={7} h={45} color="#ffee00" />
      <Box x={296} y={1313} w={7} h={60} color="#0f5e35" />
      <Box x={296} y={1373} w={7} h={54} color="#6aa883" />

      {/* group headers */}
      <Box x={37} y={1440} w={12} h={40} color={RED} />
      <Box x={37} y={1489} w={12} h={257} color={DECID} />
      <Box x={37} y={1754} w={12} h={530} color="#006d9b" />
      <T x={14} y={1477} size={36} bold color={RED}>Evergreen</T>
      <T x={14} y={1702} size={36} bold color={DECID}>Deciduous</T>
      <T x={14} y={2106} size={36} bold color="#006d9b">Coniferous</T>

      <T x={77} y={2443} size={24}>Age</T>
      <T x={115} y={2442} size={24}>(ka)</T>
      <T x={339} y={2453} size={24} bold color={RED}>Ku1</T>
      <T x={412} y={2453} size={24} bold color={RED}>Ku2</T>
      <T x={702} y={2472} size={24} bold color={RED}>Byk-E</T>

      {/* bottom key */}
      <svg style={{ position: 'absolute', left: 1290, top: 2263 }} width={14} height={32}>
        <path d="M12 2 L12 30 L2 30" fill="none" stroke="#111" strokeWidth={1.8} />
      </svg>
      <T x={1296} y={2255} size={22}>10%</T>
      <T x={1296} y={2182} size={22}>+ &lt; 0.5%</T>
      <T x={1346} y={2305} size={24}>Main tephra beds</T>
      <Box x={1345} y={2312} w={1.6} h={50} color={RED} />
      <T x={1346} y={2046} size={24}>GSSP</T>
      <C left={1330} top={2060} width={32} height={30} config={starCfg(0, 1, [0.5], 24)} />

      {/* dinocyst key */}
      <div style={{ position: 'absolute', left: 1198, top: 445, width: 220, height: 1011, border: '3px solid #111', boxSizing: 'content-box' }} />
      <T x={1217} y={1092} size={19} bold>Key to dinoflagellate cyst taxa</T>
      {[
        [1238, 1405, dinoColors.roundBrown], [1270, 1405, dinoColors.quanta], [1301, 1405, dinoColors.nephroides], [1365, 1405, dinoColors.echinidinium],
        [1238, 1116, dinoColors.other], [1270, 1116, dinoColors.lingulodinium], [1301, 1116, dinoColors.protoceratium], [1333, 1116, dinoColors.operculodinium], [1365, 1116, dinoColors.mirabilis],
        [1238, 785, dinoColors.pachydermus], [1301, 785, dinoColors.groupA], [1333, 785, dinoColors.achomosphaera], [1365, 785, dinoColors.others],
      ].map(([x, y, c]: any, i) => <Box key={i} x={x} y={y} w={19} h={40} color={c} />)}
      <T x={1248} y={1398} size={18.5}>Round brown cysts</T>
      <T x={1279} y={1398} size={18.5} italic>Selenopemphix quanta</T>
      <T x={1311} y={1398} size={18.5}><i>Selenopemphix nephroides</i> +</T>
      <T x={1333} y={1398} size={18.5} italic>S. undulata</T>
      <T x={1374} y={1398} size={18.5} italic>Echinidinium aculeatum</T>
      <T x={1248} y={1110} size={18.5}>Other heterotrophic species</T>
      <T x={1279} y={1110} size={18.5} italic>Lingulodinium machaerophorum</T>
      <T x={1311} y={1110} size={18.5} italic>Protoceratium reticulatum</T>
      <T x={1343} y={1110} size={18.5} italic>Operculodinium israelianum</T>
      <T x={1374} y={1110} size={18.5} italic>Spiniferites mirabilis</T>
      <T x={1248} y={778} size={18.5}><i>Spiniferites pachydermus</i> sensu</T>
      <T x={1268} y={778} size={18.5}>Mertens et al. (2015)</T>
      <T x={1311} y={778} size={18.5}><i>Spiniferites</i> spp. group A</T>
      <T x={1343} y={778} size={18.5}><i>Achomosphaera/Spiniferites</i> spp. indet.</T>
      <T x={1374} y={778} size={18.5}>Other species</T>
    </div>
  );
}
